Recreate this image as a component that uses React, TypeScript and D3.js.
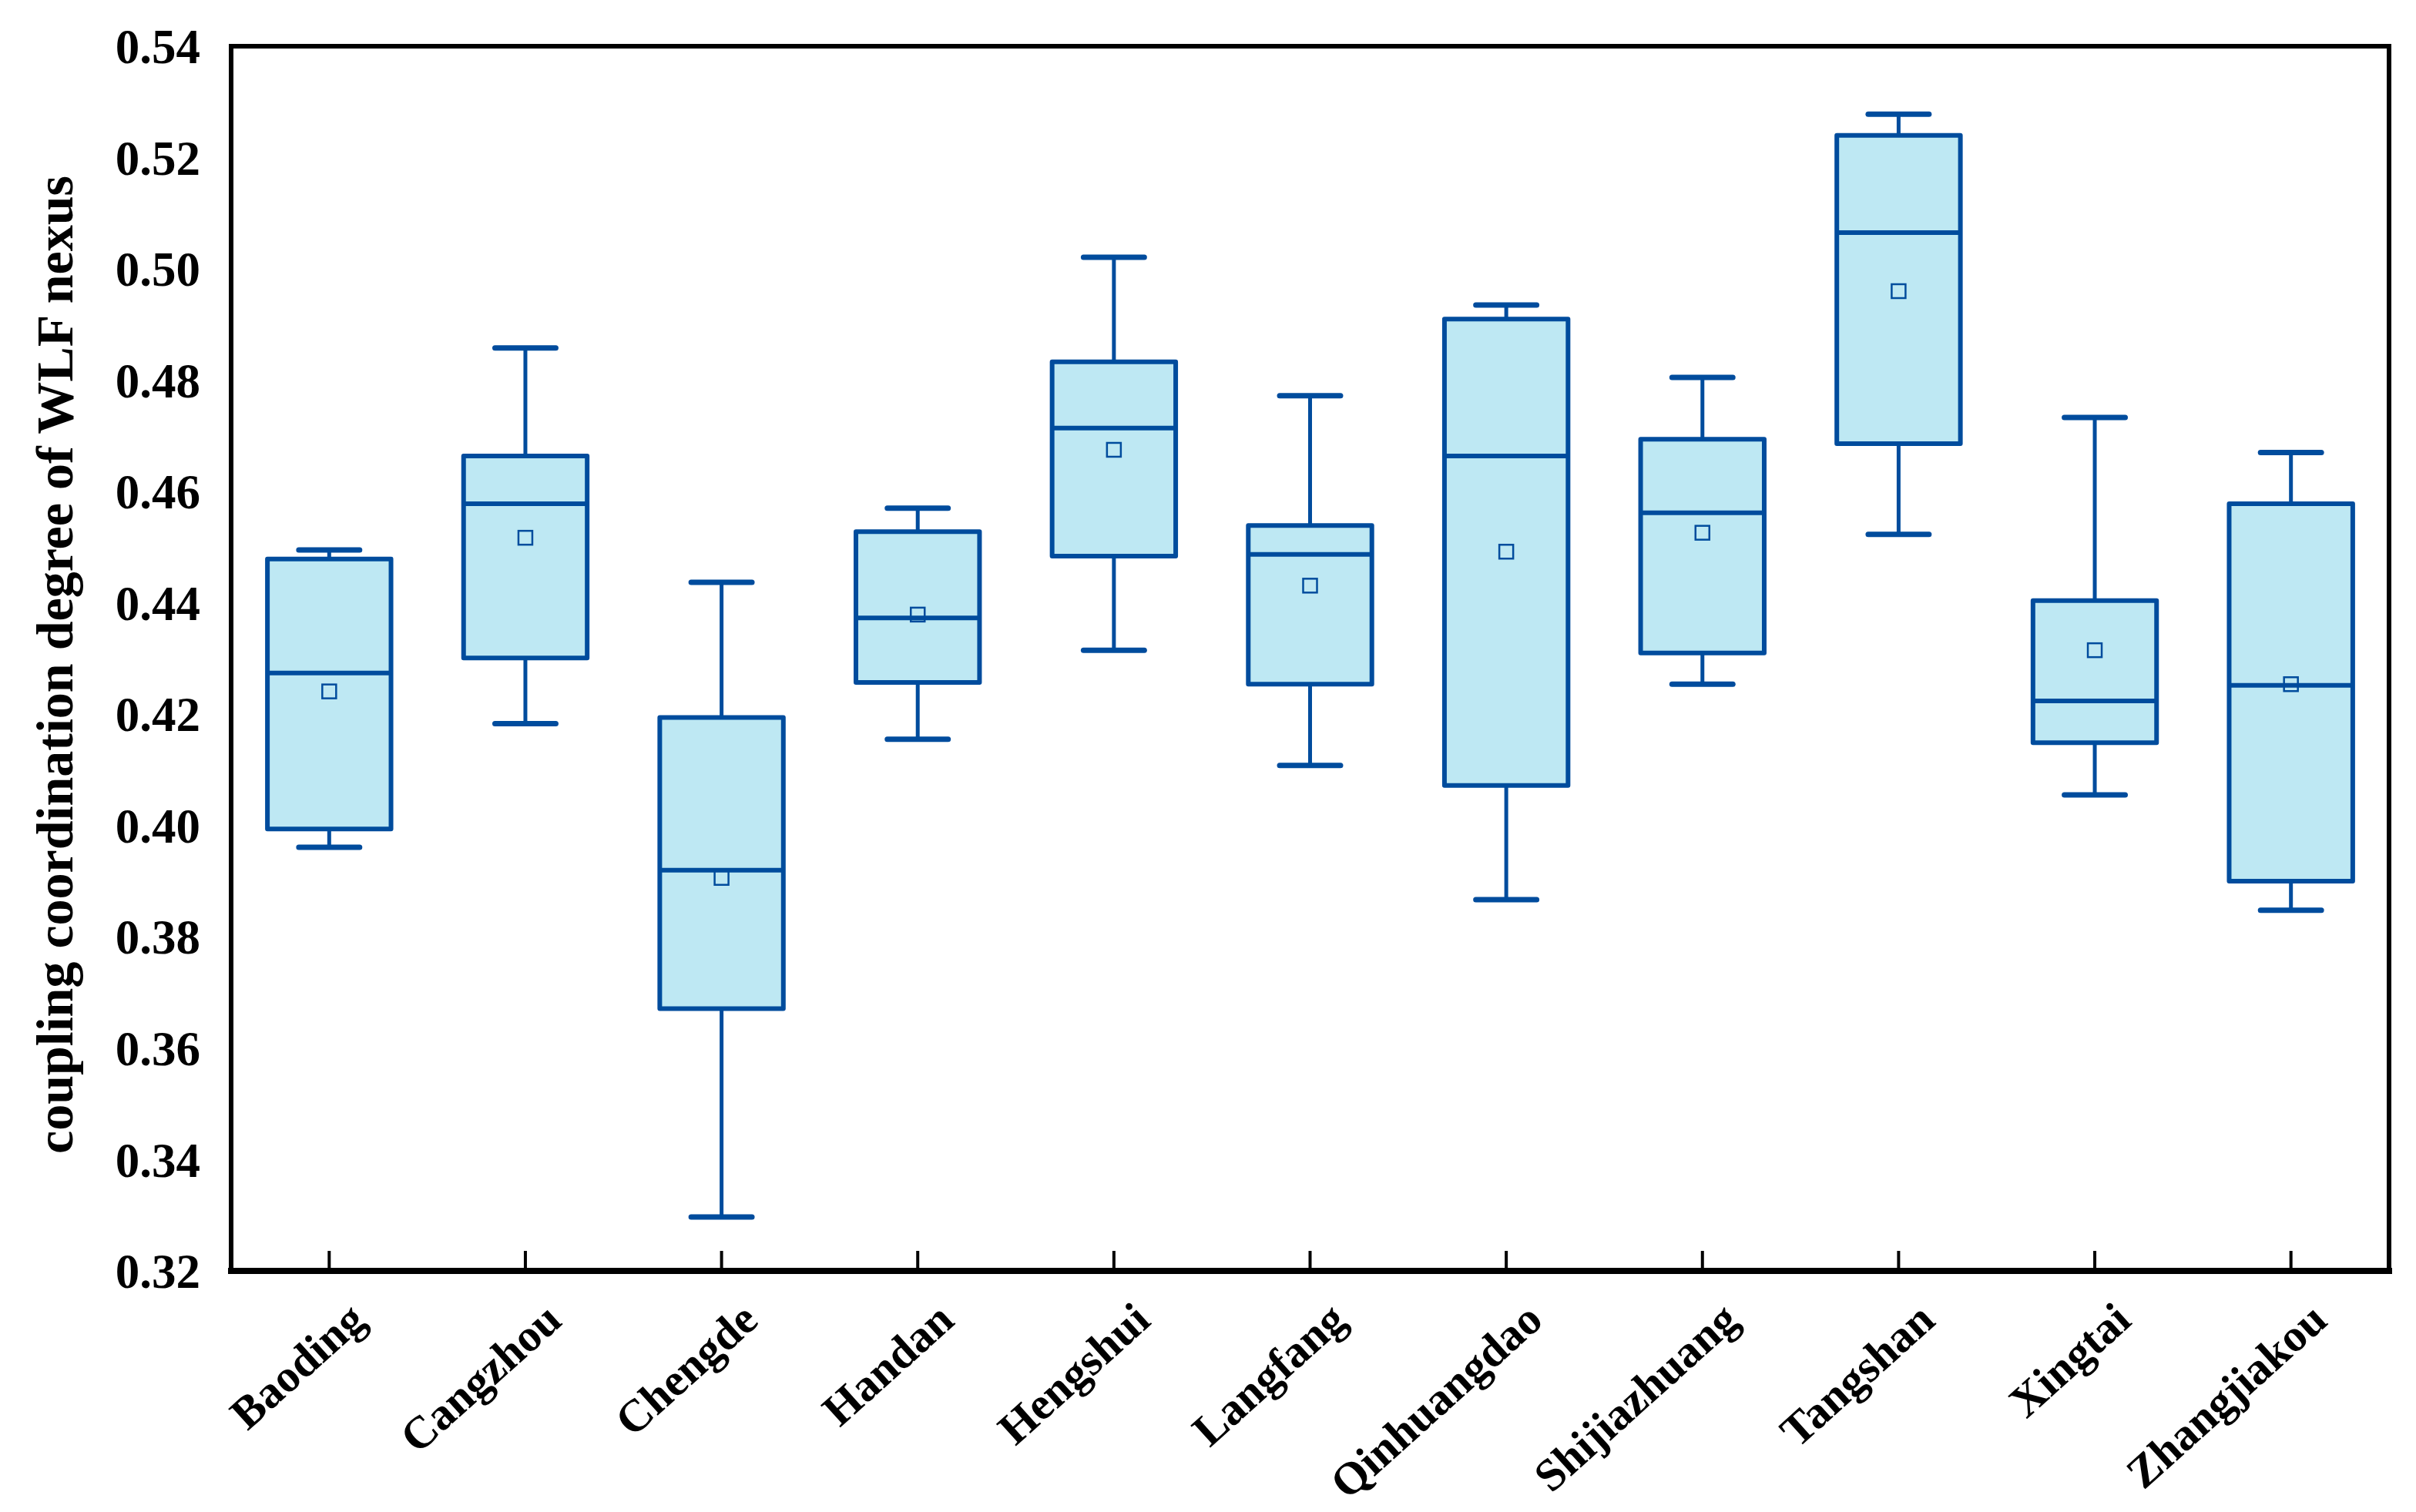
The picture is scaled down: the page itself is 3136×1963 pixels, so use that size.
import { scaleBand, scaleLinear, format } from "d3";

const categories = [
  "Baoding",
  "Cangzhou",
  "Chengde",
  "Handan",
  "Hengshui",
  "Langfang",
  "Qinhuangdao",
  "Shijiazhuang",
  "Tangshan",
  "Xingtai",
  "Zhangjiakou",
];

// box statistics
const whiskerLow = [0.3961, 0.4183, 0.3297, 0.4155, 0.4315, 0.4108, 0.3867, 0.4254, 0.4523, 0.4055, 0.3848];
const q1 = [0.3994, 0.4301, 0.3671, 0.4257, 0.4484, 0.4254, 0.4072, 0.431, 0.4686, 0.4149, 0.39];
const median = [0.4274, 0.4578, 0.392, 0.4373, 0.4714, 0.4487, 0.4664, 0.4562, 0.5065, 0.4224, 0.4252];
const q3 = [0.4479, 0.4664, 0.4194, 0.4528, 0.4833, 0.4539, 0.491, 0.4694, 0.524, 0.4404, 0.4578];
const whiskerHigh = [0.4495, 0.4858, 0.4437, 0.457, 0.5021, 0.4772, 0.4935, 0.4805, 0.5278, 0.4733, 0.467];
const mean = [0.4241, 0.4517, 0.3906, 0.4379, 0.4675, 0.4431, 0.4492, 0.4526, 0.496, 0.4315, 0.4254];

const yTicks = [0.32, 0.34, 0.36, 0.38, 0.4, 0.42, 0.44, 0.46, 0.48, 0.5, 0.52, 0.54];

const W = 3136;
const H = 1963;
const left = 300;
const right = 3101;
const top = 60;
const bottom = 1650;

const stroke = "#004C9D";
const fill = "#BEE8F3";
const font = "'Liberation Serif', 'Times New Roman', serif";

export default function App() {
  const x = scaleBand<string>().domain(categories).range([left, right]).padding(0);
  const y = scaleLinear().domain([0.32, 0.54]).range([bottom, top]);
  const bw = x.bandwidth();
  const boxW = bw * 0.63;
  const capW = bw * 0.31;
  const fmt = format(".2f");

  return (
    <svg
      width={W}
      height={H}
      style={{ position: "absolute", left: 0, top: 0, background: "#fff" }}
      fontFamily={font}
    >
      {/* boxes */}
      {categories.map((c, i) => {
        const cx = (x(c) as number) + bw / 2;
        return (
          <g key={c}>
            <line x1={cx} x2={cx} y1={y(whiskerHigh[i])} y2={y(q3[i])} stroke={stroke} strokeWidth={5} />
            <line x1={cx} x2={cx} y1={y(q1[i])} y2={y(whiskerLow[i])} stroke={stroke} strokeWidth={5} />
            <line
              x1={cx - capW / 2}
              x2={cx + capW / 2}
              y1={y(whiskerHigh[i])}
              y2={y(whiskerHigh[i])}
              stroke={stroke}
              strokeWidth={7}
              strokeLinecap="round"
            />
            <line
              x1={cx - capW / 2}
              x2={cx + capW / 2}
              y1={y(whiskerLow[i])}
              y2={y(whiskerLow[i])}
              stroke={stroke}
              strokeWidth={7}
              strokeLinecap="round"
            />
            <rect
              x={cx - boxW / 2}
              y={y(q3[i])}
              width={boxW}
              height={y(q1[i]) - y(q3[i])}
              fill={fill}
              stroke={stroke}
              strokeWidth={6}
              strokeLinejoin="round"
            />
            <line
              x1={cx - boxW / 2}
              x2={cx + boxW / 2}
              y1={y(median[i])}
              y2={y(median[i])}
              stroke={stroke}
              strokeWidth={6}
            />
            <rect
              x={cx - 9}
              y={y(mean[i]) - 9}
              width={18}
              height={18}
              fill="none"
              stroke={stroke}
              strokeWidth={2.5}
            />
          </g>
        );
      })}

      {/* frame */}
      <line x1={left} x2={right} y1={top} y2={top} stroke="#000" strokeWidth={6} strokeLinecap="square" />
      <line x1={right} x2={right} y1={top} y2={bottom} stroke="#000" strokeWidth={6} strokeLinecap="square" />
      <line x1={left} x2={left} y1={top} y2={bottom} stroke="#000" strokeWidth={6} strokeLinecap="square" />
      <line x1={left} x2={right} y1={bottom} y2={bottom} stroke="#000" strokeWidth={8} strokeLinecap="square" />

      {/* x ticks and labels */}
      {categories.map((c) => {
        const cx = (x(c) as number) + bw / 2;
        return (
          <g key={"t" + c}>
            <line x1={cx} x2={cx} y1={bottom} y2={bottom - 26} stroke="#000" strokeWidth={4} />
            <text
              transform={`translate(${cx + 50},${bottom + 68}) rotate(-42)`}
              textAnchor="end"
              fontSize={59}
              fontWeight="bold"
            >
              {c}
            </text>
          </g>
        );
      })}

      {/* y tick labels */}
      {yTicks.map((t) => (
        <text
          key={t}
          x={left - 40}
          y={y(t)}
          dy="0.35em"
          textAnchor="end"
          fontSize={63}
          fontWeight="bold"
        >
          {fmt(t)}
        </text>
      ))}

      <text
        transform={`translate(94,${(top + bottom) / 2 + 8}) rotate(-90)`}
        textAnchor="middle"
        fontSize={68}
        fontWeight="bold"
      >
        coupling coordination degree of WLF nexus
      </text>
    </svg>
  );
}
